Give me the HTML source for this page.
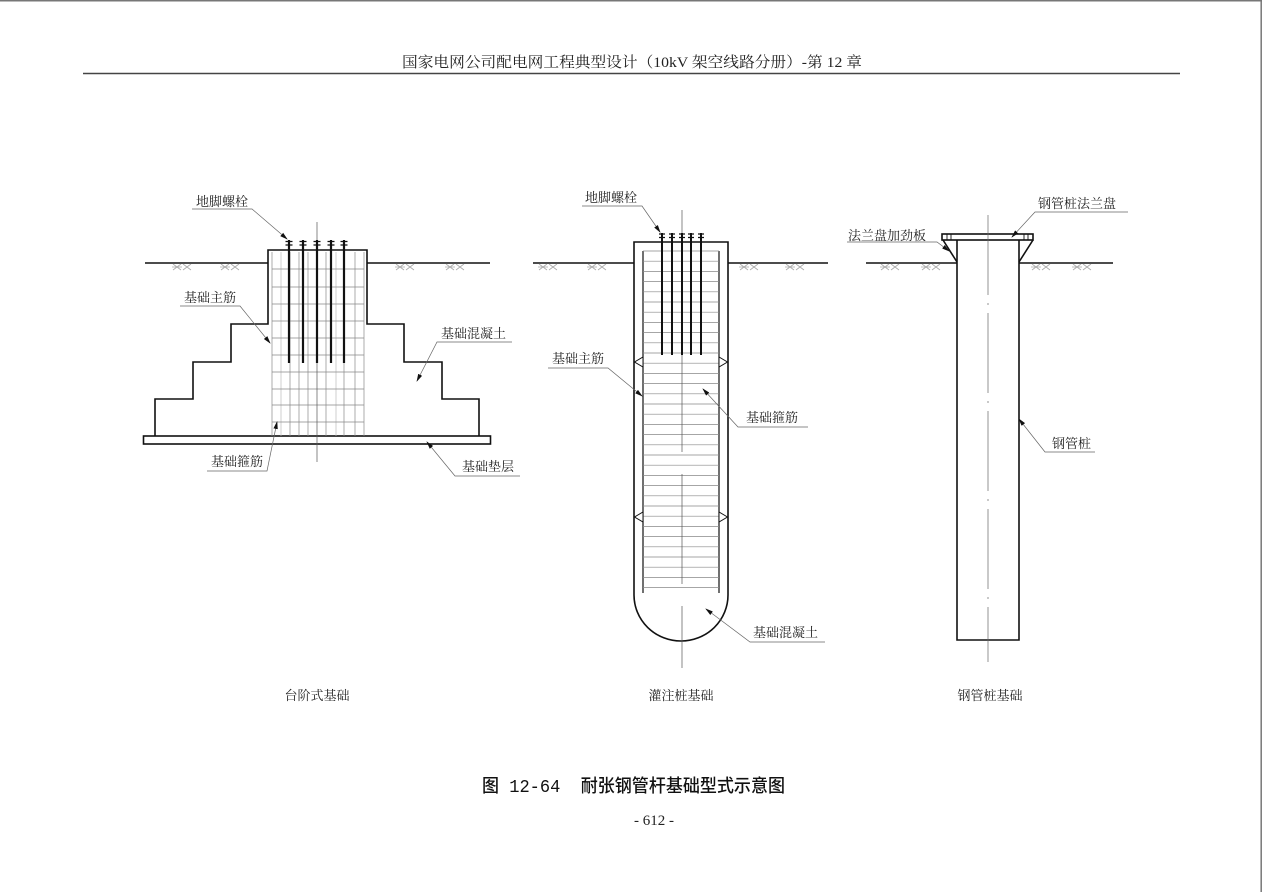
<!DOCTYPE html>
<html><head><meta charset="utf-8"><style>
html,body{margin:0;padding:0;background:#fff;}
svg{display:block;}
.t{font-family:"Liberation Serif","Noto Serif CJK SC",serif;font-size:13px;fill:#222;}
.h{font-family:"Liberation Serif","Noto Serif CJK SC",serif;font-size:15px;fill:#222;}
.c{font-family:"Liberation Mono","Noto Sans CJK SC",sans-serif;font-size:18px;fill:#111;font-weight:500;white-space:pre;}
</style></head><body>
<svg width="1262" height="892" viewBox="0 0 1262 892" xmlns="http://www.w3.org/2000/svg">
<defs>
<marker id="ar" markerWidth="8" markerHeight="6" refX="7" refY="3" orient="auto" markerUnits="userSpaceOnUse">
<path d="M0,0.8 L8,3 L0,5.2 Z" fill="#111"/>
</marker>
<g id="hx" stroke="#aaa" stroke-width="0.8" fill="none">
<path d="M0,264 L8,270 M8,264 L0,270 M10,264 L18,270 M18,264 L10,270 M-1,267 L9,267"/>
</g>
</defs>
<rect x="0" y="0" width="1262" height="892" fill="#fff"/>
<!-- page borders -->
<line x1="0" y1="0.8" x2="1262" y2="0.8" stroke="#777" stroke-width="1.5"/>
<line x1="1261.2" y1="0" x2="1261.2" y2="892" stroke="#777" stroke-width="1.5"/>

<!-- header -->
<text class="h" x="402" y="67" textLength="460" lengthAdjust="spacingAndGlyphs">国家电网公司配电网工程典型设计（10kV 架空线路分册）-第 12 章</text>
<line x1="83" y1="73.5" x2="1180" y2="73.5" stroke="#444" stroke-width="1.4"/>

<!-- ================= LEFT: 台阶式基础 ================= -->
<g stroke="#111" stroke-width="1.6" fill="none">
<line x1="145" y1="263" x2="268" y2="263"/>
<line x1="367" y1="263" x2="490" y2="263"/>
<path d="M155,436 L155,399 L193,399 L193,362 L231,362 L231,324 L268,324 L268,250 L367,250 L367,324 L404,324 L404,362 L442,362 L442,399 L479,399 L479,436"/>
<rect x="143.5" y="436" width="347" height="8"/>
</g>
<g stroke="#888" stroke-width="0.7">
<line x1="272" y1="252" x2="272" y2="436"/>
<line x1="281" y1="252" x2="281" y2="436" stroke="#bbb"/>
<line x1="290" y1="252" x2="290" y2="436"/>
<line x1="299" y1="252" x2="299" y2="436"/>
<line x1="308" y1="252" x2="308" y2="436"/>
<line x1="326" y1="252" x2="326" y2="436"/>
<line x1="336" y1="252" x2="336" y2="436" stroke="#bbb"/>
<line x1="344" y1="252" x2="344" y2="436"/>
<line x1="355" y1="252" x2="355" y2="436"/>
<line x1="364" y1="252" x2="364" y2="436"/>
<line x1="272" y1="269" x2="364" y2="269"/>
<line x1="272" y1="287" x2="364" y2="287"/>
<line x1="272" y1="304" x2="364" y2="304"/>
<line x1="272" y1="321" x2="364" y2="321"/>
<line x1="272" y1="338" x2="364" y2="338"/>
<line x1="272" y1="355" x2="364" y2="355"/>
<line x1="272" y1="372" x2="364" y2="372"/>
<line x1="272" y1="389" x2="364" y2="389"/>
<line x1="272" y1="405" x2="364" y2="405"/>
<line x1="272" y1="422" x2="364" y2="422"/>
</g>
<line x1="317" y1="222" x2="317" y2="462" stroke="#555" stroke-width="0.7"/>
<g stroke="#111" stroke-width="2.2">
<line x1="289" y1="240" x2="289" y2="363"/>
<line x1="303" y1="240" x2="303" y2="363"/>
<line x1="317" y1="240" x2="317" y2="363"/>
<line x1="331" y1="240" x2="331" y2="363"/>
<line x1="344" y1="240" x2="344" y2="363"/>
</g>
<g stroke="#111" stroke-width="1.3">
<path d="M285.5,241.5h7M285.5,245h7 M299.5,241.5h7M299.5,245h7 M313.5,241.5h7M313.5,245h7 M327.5,241.5h7M327.5,245h7 M340.5,241.5h7M340.5,245h7"/>
</g>
<use href="#hx" x="173" y="0"/><use href="#hx" x="221" y="0"/>
<use href="#hx" x="396" y="0"/><use href="#hx" x="446" y="0"/>
<!-- left labels -->
<g stroke="#666" stroke-width="0.7" fill="none">
<path d="M192,209 L252,209 L287,239" marker-end="url(#ar)"/>
<path d="M180,306 L240,306 L270,343" marker-end="url(#ar)"/>
<path d="M512,342 L437,342 L417,381" marker-end="url(#ar)"/>
<path d="M207,471 L267,471 L277,422" marker-end="url(#ar)"/>
<path d="M520,476 L455,476 L427,442" marker-end="url(#ar)"/>
</g>
<text class="t" x="196" y="206">地脚螺栓</text>
<text class="t" x="184" y="302">基础主筋</text>
<text class="t" x="441" y="338">基础混凝土</text>
<text class="t" x="211" y="466">基础箍筋</text>
<text class="t" x="462" y="471">基础垫层</text>
<text class="t" x="317" y="700" text-anchor="middle">台阶式基础</text>

<!-- ================= MIDDLE: 灌注桩基础 ================= -->
<g stroke="#111" stroke-width="1.6" fill="none">
<line x1="533" y1="263" x2="634" y2="263"/>
<line x1="728" y1="263" x2="828" y2="263"/>
<path d="M634,595 L634,242 L728,242 L728,595 A47,46 0 0 1 681,641 A47,46 0 0 1 634,595 Z"/>
</g>
<g stroke="#111" stroke-width="1.2">
<line x1="643" y1="251" x2="643" y2="593"/>
<line x1="719" y1="251" x2="719" y2="593"/>
</g>
<g stroke="#888" stroke-width="0.7">
<line x1="643" y1="251" x2="719" y2="251"/><line x1="643" y1="261.2" x2="719" y2="261.2"/>
<line x1="643" y1="271.4" x2="719" y2="271.4"/><line x1="643" y1="281.6" x2="719" y2="281.6"/>
<line x1="643" y1="291.8" x2="719" y2="291.8"/><line x1="643" y1="302" x2="719" y2="302"/>
<line x1="643" y1="312.2" x2="719" y2="312.2"/><line x1="643" y1="322.4" x2="719" y2="322.4"/>
<line x1="643" y1="332.6" x2="719" y2="332.6"/><line x1="643" y1="342.8" x2="719" y2="342.8"/>
<line x1="643" y1="353" x2="719" y2="353"/><line x1="643" y1="363.2" x2="719" y2="363.2"/>
<line x1="643" y1="373.4" x2="719" y2="373.4"/><line x1="643" y1="383.6" x2="719" y2="383.6"/>
<line x1="643" y1="393.8" x2="719" y2="393.8"/><line x1="643" y1="404" x2="719" y2="404"/>
<line x1="643" y1="414.2" x2="719" y2="414.2"/><line x1="643" y1="424.4" x2="719" y2="424.4"/>
<line x1="643" y1="434.6" x2="719" y2="434.6"/><line x1="643" y1="444.8" x2="719" y2="444.8"/>
<line x1="643" y1="455" x2="719" y2="455"/><line x1="643" y1="465.2" x2="719" y2="465.2"/>
<line x1="643" y1="475.4" x2="719" y2="475.4"/><line x1="643" y1="485.6" x2="719" y2="485.6"/>
<line x1="643" y1="495.8" x2="719" y2="495.8"/><line x1="643" y1="506" x2="719" y2="506"/>
<line x1="643" y1="516.2" x2="719" y2="516.2"/><line x1="643" y1="526.4" x2="719" y2="526.4"/>
<line x1="643" y1="536.6" x2="719" y2="536.6"/><line x1="643" y1="546.8" x2="719" y2="546.8"/>
<line x1="643" y1="557" x2="719" y2="557"/><line x1="643" y1="567.2" x2="719" y2="567.2"/>
<line x1="643" y1="577.4" x2="719" y2="577.4"/><line x1="643" y1="587.6" x2="719" y2="587.6"/>
</g>
<line x1="682" y1="210" x2="682" y2="668" stroke="#555" stroke-width="0.7" stroke-dasharray="110,22"/>
<g stroke="#111" stroke-width="2">
<line x1="662" y1="233" x2="662" y2="355"/>
<line x1="672" y1="233" x2="672" y2="355"/>
<line x1="682" y1="233" x2="682" y2="355"/>
<line x1="691" y1="233" x2="691" y2="355"/>
<line x1="701" y1="233" x2="701" y2="355"/>
</g>
<g stroke="#111" stroke-width="1.2">
<path d="M659,234h6M659,237.5h6 M669,234h6M669,237.5h6 M679,234h6M679,237.5h6 M688,234h6M688,237.5h6 M698,234h6M698,237.5h6"/>
</g>
<g stroke="#111" stroke-width="1" fill="#fff">
<path d="M634.5,362 L643,357 L643,367 Z"/>
<path d="M727.5,362 L719,357 L719,367 Z"/>
<path d="M634.5,517 L643,512 L643,522 Z"/>
<path d="M727.5,517 L719,512 L719,522 Z"/>
</g>
<use href="#hx" x="539" y="0"/><use href="#hx" x="588" y="0"/>
<use href="#hx" x="740" y="0"/><use href="#hx" x="786" y="0"/>
<g stroke="#666" stroke-width="0.7" fill="none">
<path d="M582,206 L642,206 L660,232" marker-end="url(#ar)"/>
<path d="M548,368 L608,368 L642,396" marker-end="url(#ar)"/>
<path d="M808,427 L738,427 L703,389" marker-end="url(#ar)"/>
<path d="M825,642 L750,642 L706,609" marker-end="url(#ar)"/>
</g>
<text class="t" x="585" y="202">地脚螺栓</text>
<text class="t" x="552" y="363">基础主筋</text>
<text class="t" x="746" y="422">基础箍筋</text>
<text class="t" x="753" y="637">基础混凝土</text>
<text class="t" x="681" y="700" text-anchor="middle">灌注桩基础</text>

<!-- ================= RIGHT: 钢管桩基础 ================= -->
<g stroke="#111" stroke-width="1.6" fill="none">
<line x1="866" y1="263" x2="957" y2="263"/>
<line x1="1019" y1="263" x2="1113" y2="263"/>
<path d="M957,240 L957,640 L1019,640 L1019,240"/>
<rect x="942" y="234" width="91" height="6"/>
<path d="M943,240 L957,262 M1033,240 L1019,262"/>
</g>
<g stroke="#111" stroke-width="0.9">
<path d="M947,234v6M951,234v6M1024,234v6M1028,234v6"/>
</g>
<line x1="988" y1="215" x2="988" y2="662" stroke="#666" stroke-width="0.7" stroke-dasharray="80,8,2,8"/>
<use href="#hx" x="881" y="0"/><use href="#hx" x="922" y="0"/>
<use href="#hx" x="1032" y="0"/><use href="#hx" x="1073" y="0"/>
<g stroke="#666" stroke-width="0.7" fill="none">
<path d="M1128,212 L1035,212 L1012,237" marker-end="url(#ar)"/>
<path d="M847,242 L937,242 L949,251" marker-end="url(#ar)"/>
<path d="M1095,452 L1045,452 L1019,419" marker-end="url(#ar)"/>
</g>
<text class="t" x="1038" y="208">钢管桩法兰盘</text>
<text class="t" x="848" y="240">法兰盘加劲板</text>
<text class="t" x="1052" y="448">钢管桩</text>
<text class="t" x="990" y="700" text-anchor="middle">钢管桩基础</text>

<!-- caption -->
<text class="c" x="482" y="792" textLength="303" lengthAdjust="spacingAndGlyphs">图 12-64  耐张钢管杆基础型式示意图</text>
<text class="h" x="654" y="825" text-anchor="middle">- 612 -</text>
</svg>
</body></html>
